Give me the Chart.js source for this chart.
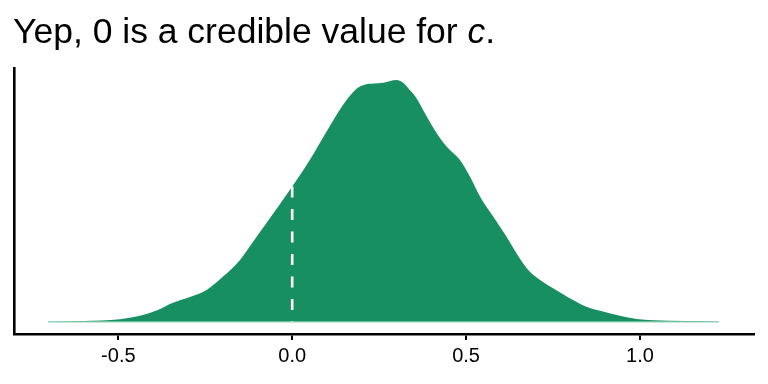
<!DOCTYPE html>
<html>
<head>
<meta charset="utf-8">
<script src="https://cdn.jsdelivr.net/npm/chart.js@4/dist/chart.umd.min.js"></script>
<style>
  html, body { margin: 0; padding: 0; background: #ffffff; }
  #wrap { width: 768px; height: 384px; position: relative; }
</style>
</head>
<body>
<div id="wrap"><canvas id="c" width="768" height="384"></canvas></div>
<script>
// ---- data ----
const titleMain = "Yep, 0 is a credible value for ";
const titleItalic = "c";
const titleEnd = ".";

const cValues = [-0.702, -0.6, -0.495, -0.438, -0.390, -0.343, -0.294, -0.246, -0.199, -0.150, -0.113, -0.074,
  0.000, 0.051, 0.099, 0.147, 0.185, 0.210, 0.235, 0.262, 0.282, 0.300, 0.318, 0.335, 0.355, 0.376, 0.415, 0.444,
  0.482, 0.511, 0.540, 0.578, 0.616, 0.654, 0.683, 0.712, 0.750, 0.798, 0.846, 0.894, 0.942, 0.990,
  1.037, 1.133, 1.227];
const densityValues = [0.001, 0.004, 0.011, 0.025, 0.047, 0.079, 0.103, 0.132, 0.187, 0.256, 0.330, 0.408,
  0.559, 0.669, 0.786, 0.897, 0.962, 0.980, 0.984, 0.987, 0.994, 0.998, 0.988, 0.962, 0.928, 0.876, 0.780, 0.724,
  0.669, 0.600, 0.518, 0.435, 0.352, 0.263, 0.208, 0.174, 0.139, 0.098, 0.063, 0.043, 0.025, 0.012,
  0.007, 0.004, 0.001];
const markerX = 0;
const markerDensity = 0.559;
const tickValues = [-0.5, 0.0, 0.5, 1.0];
const xMin = -0.800, xMax = 1.328;

// ---- chart ----
const densityPoints = cValues.map((x, i) => ({ x: x, y: densityValues[i] }));
const yMax = Math.max(...densityValues);

const titlePlugin = {
  id: 'mixedTitle',
  afterDraw(chart) {
    const ctx = chart.ctx;
    ctx.save();
    ctx.fillStyle = '#000000';
    ctx.textBaseline = 'alphabetic';
    ctx.textAlign = 'left';
    let x = 13;
    const y = 43;
    const size = 35.5;
    ctx.font = size + 'px "Liberation Sans", Arial, sans-serif';
    ctx.fillText(titleMain, x, y);
    x += ctx.measureText(titleMain).width;
    ctx.font = 'italic ' + size + 'px "Liberation Sans", Arial, sans-serif';
    ctx.fillText(titleItalic, x, y);
    x += ctx.measureText(titleItalic).width;
    ctx.font = size + 'px "Liberation Sans", Arial, sans-serif';
    ctx.fillText(titleEnd, x, y);
    ctx.restore();
  }
};

new Chart(document.getElementById('c'), {
  type: 'line',
  data: {
    datasets: [
      {
        label: 'zero',
        data: [{ x: markerX, y: markerDensity }, { x: markerX, y: 0 }],
        borderColor: '#ffffff',
        borderWidth: 2.6,
        borderDash: [11, 11.5],
        pointRadius: 0,
        fill: false
      },
      {
        label: 'base',
        data: [{ x: cValues[0], y: 0 }, { x: cValues[cValues.length - 1], y: 0 }],
        borderColor: '#8fd1b5',
        borderWidth: 1.4,
        pointRadius: 0,
        fill: false
      },
      {
        label: 'density',
        data: densityPoints,
        borderWidth: 0,
        borderColor: 'rgba(0,0,0,0)',
        backgroundColor: '#178f61',
        pointRadius: 0,
        fill: 'origin',
        cubicInterpolationMode: 'monotone'
      }
    ]
  },
  options: {
    responsive: false,
    animation: false,
    devicePixelRatio: 1,
    layout: { padding: { left: 14, right: 14, top: 68, bottom: 0 } },
    plugins: { legend: { display: false }, tooltip: { enabled: false }, title: { display: false } },
    scales: {
      x: {
        type: 'linear',
        min: xMin,
        max: xMax,
        afterBuildTicks(scale) { scale.ticks = tickValues.map(v => ({ value: v })); },
        afterFit(scale) { scale.height = 50; },
        ticks: {
          color: '#000000',
          font: { family: '"Liberation Sans", Arial, sans-serif', size: 20 },
          padding: 4,
          maxRotation: 0,
          autoSkip: false,
          callback: (v) => Number(v).toFixed(1)
        },
        grid: {
          display: true,
          drawOnChartArea: false,
          drawTicks: true,
          tickLength: 6,
          color: '#000000',
          tickColor: '#000000',
          lineWidth: 2
        },
        border: { display: true, color: '#000000', width: 2.6 }
      },
      y: {
        min: -0.05 * yMax,
        max: 1.05 * yMax,
        afterFit(scale) { scale.width = 0; },
        ticks: { display: false },
        grid: { display: false, drawTicks: false },
        border: { display: true, color: '#000000', width: 2.6 }
      }
    }
  },
  plugins: [titlePlugin]
});
</script>
</body>
</html>
